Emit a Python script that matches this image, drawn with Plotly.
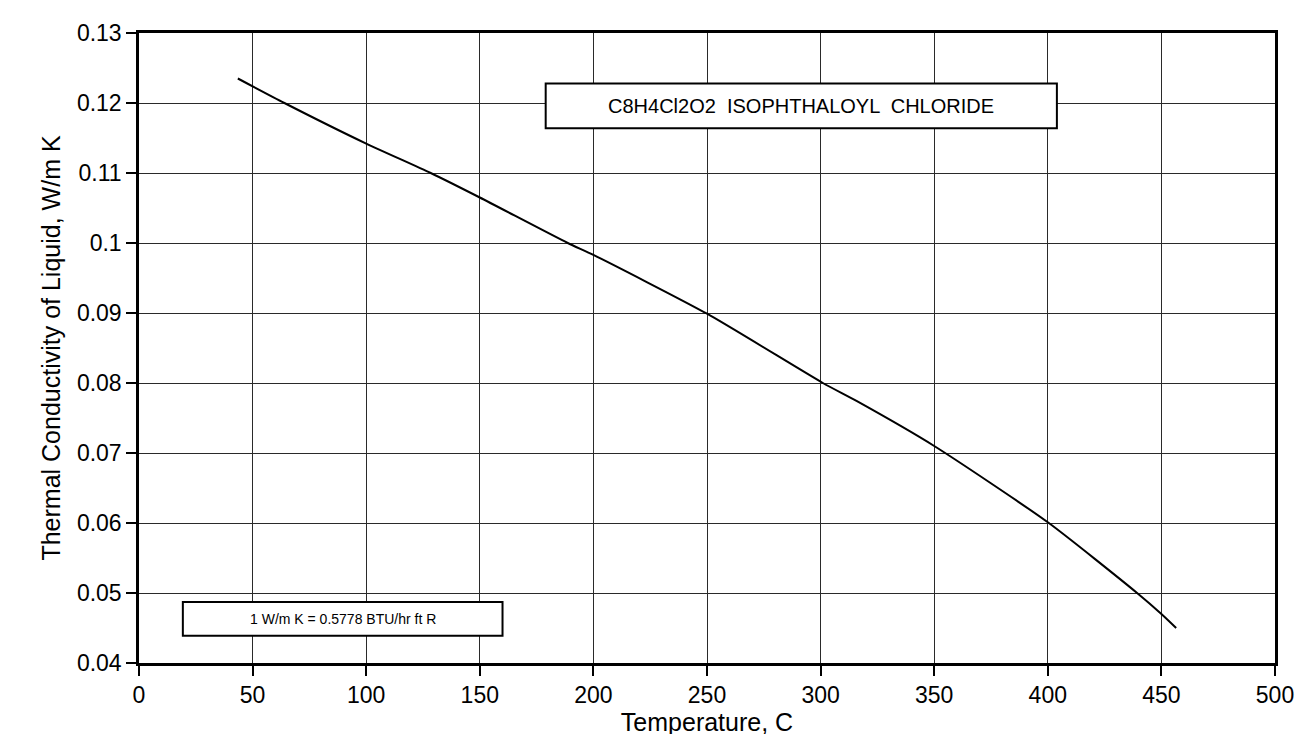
import plotly.graph_objects as go

# Data
temperature_c = [43.5, 64, 100, 128.4, 150, 188.7, 200, 250, 301, 316, 350, 400, 439.3, 450, 456.5]
conductivity = [0.1235, 0.1200, 0.1142, 0.1100, 0.1065, 0.1000, 0.0983, 0.0899, 0.0800, 0.0774,
                0.0710, 0.0601, 0.0500, 0.0470, 0.0450]

x_ticks = [0, 50, 100, 150, 200, 250, 300, 350, 400, 450, 500]
y_ticks = [0.04, 0.05, 0.06, 0.07, 0.08, 0.09, 0.1, 0.11, 0.12, 0.13]
y_tick_labels = ["0.04", "0.05", "0.06", "0.07", "0.08", "0.09", "0.1", "0.11", "0.12", "0.13"]

title_text = "C8H4Cl2O2  ISOPHTHALOYL  CHLORIDE"
note_text = "1 W/m K = 0.5778 BTU/hr ft R"

FONT = "Liberation Sans, Arial, Helvetica, sans-serif"

fig = go.Figure()
fig.add_trace(go.Scatter(x=temperature_c, y=conductivity, mode="lines",
                         line=dict(color="black", width=2, shape="spline", smoothing=0.6),
                         showlegend=False))

axis_common = dict(
    showline=True, linecolor="black", linewidth=2.5, mirror=True,
    ticks="outside", ticklen=10, tickwidth=2, tickcolor="black",
    showgrid=True, gridcolor="#2a2a2a", gridwidth=1.3,
    zeroline=False, tickfont=dict(family=FONT, size=23, color="black"),
)

fig.update_layout(
    width=1310, height=734,
    margin=dict(l=131, r=43, t=21, b=78),
    paper_bgcolor="white", plot_bgcolor="white",
    font=dict(family=FONT, color="black"),
    xaxis=dict(range=[0, 500], tickvals=x_ticks, ticktext=[str(v) for v in x_ticks],
               title=dict(text="Temperature, C", font=dict(family=FONT, size=25), standoff=4),
               **axis_common),
    yaxis=dict(range=[0.04, 0.13], tickvals=y_ticks, ticktext=y_tick_labels,
               title=dict(text="Thermal Conductivity of Liquid, W/m K", font=dict(family=FONT, size=25), standoff=10),
               **axis_common),
)

# Title box
fig.add_shape(type="rect", xref="x", yref="y", x0=179, x1=404, y0=0.1164, y1=0.1228,
              line=dict(color="black", width=2), fillcolor="white", layer="above")
fig.add_annotation(x=291.5, y=0.1196, xref="x", yref="y", text=title_text, showarrow=False,
                   font=dict(family=FONT, size=20, color="black"))

# Conversion note box
fig.add_shape(type="rect", xref="x", yref="y", x0=19.3, x1=160, y0=0.0439, y1=0.0487,
              line=dict(color="black", width=2), fillcolor="white", layer="above")
fig.add_annotation(x=89.6, y=0.0463, xref="x", yref="y", text=note_text, showarrow=False,
                   font=dict(family=FONT, size=14, color="black"))

fig.write_html("out.html")
